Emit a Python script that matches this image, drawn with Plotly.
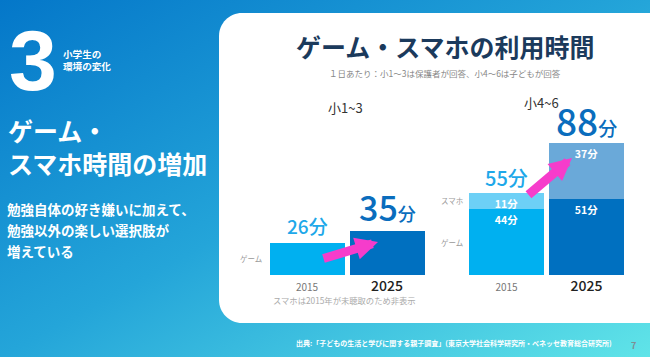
import base64
import plotly.graph_objects as go

# ---------------- data ----------------
years = ["2015", "2025"]
low_game = [26, 35]            # 小1~3 ゲーム (分)
high_game = [44, 51]           # 小4~6 ゲーム (分)
high_phone = [11, 37]          # 小4~6 スマホ (分)
group_labels = ["小1~3", "小4~6"]
series_labels = ["ゲーム", "スマホ"]

W, H = 650, 357
JP = "Noto Sans CJK JP"


def px(x):
    return x / W


def py(y):
    return 1 - y / H


# ---------------- background ----------------
svg = (
    '<svg xmlns="http://www.w3.org/2000/svg" width="650" height="357">'
    '<defs><linearGradient id="g" x1="0" y1="0" x2="1" y2="1">'
    '<stop offset="0" stop-color="#0477c9"/>'
    '<stop offset="0.5" stop-color="#24a5d9"/>'
    '<stop offset="1" stop-color="#60e4e8"/>'
    '</linearGradient></defs>'
    '<rect width="650" height="357" fill="url(#g)"/></svg>'
)
bg_uri = "data:image/svg+xml;base64," + base64.b64encode(svg.encode()).decode()

fig = go.Figure()

# ---------------- bars ----------------
c2015 = "#00b0f0"
c2025 = "#0070c0"
c2015p = "#6dd0f6"
c2025p = "#6aa9d9"

fig.add_trace(go.Bar(
    x=years, y=low_game, xaxis="x", yaxis="y",
    marker=dict(color=[c2015, c2025], line=dict(width=0)),
    hoverinfo="skip", showlegend=False,
))
fig.add_trace(go.Bar(
    x=years, y=high_game, xaxis="x2", yaxis="y2",
    marker=dict(color=[c2015, c2025], line=dict(width=0)),
    text=[f"{v}分" for v in high_game], textposition="inside",
    insidetextanchor="end", constraintext="none",
    textfont=dict(family=JP, size=10.5, color="white", weight="bold"),
    hoverinfo="skip", showlegend=False,
))
fig.add_trace(go.Bar(
    x=years, y=high_phone, xaxis="x2", yaxis="y2",
    marker=dict(color=[c2015p, c2025p], line=dict(width=0)),
    text=[f"{v}分" for v in high_phone], textposition="inside",
    insidetextanchor="end", constraintext="none",
    textfont=dict(family=JP, size=10.5, color="white", weight="bold"),
    hoverinfo="skip", showlegend=False,
))

ticktext = [
    f"<span style='font-size:10px;color:#777'>{years[0]}</span>",
    f"<span style='font-size:14px;color:#222;font-weight:500'>{years[1]}</span>",
]
xcommon = dict(type="category", range=[-0.5, 1.5], showgrid=False, zeroline=False,
               showline=False, ticks="", ticklen=0, ticklabelstandoff=3,
               tickmode="array", tickvals=years,
               ticktext=ticktext, tickfont=dict(family=JP, size=12, color="#222"),
               fixedrange=True)
ydom = [py(275), py(25)]

annotations = []


def ann(text, x, y, size, color="white", weight="normal", xanchor="center",
        yanchor="middle", family=JP, **kw):
    annotations.append(dict(text=text, x=px(x), y=py(y), xref="paper", yref="paper",
                            showarrow=False, xanchor=xanchor, yanchor=yanchor,
                            font=dict(family=family, size=size, color=color, weight=weight),
                            **kw))


# left panel texts
ann("3", 33, 60, 86, weight="bold", family="Liberation Sans")
ann("小学生の<br>環境の変化", 61, 60, 9.6, weight="bold", xanchor="left", align="left")
ann("ゲーム・<br>スマホ時間の増加", 6, 146, 25, weight="bold", xanchor="left", align="left")
for i, line in enumerate(["勉強自体の好き嫌いに加えて、", "勉強以外の楽しい選択肢が", "増えている"]):
    ann(line, 6, 209 + 21 * i, 13.5, weight="bold", xanchor="left", align="left", borderpad=0)

# footer
ann("出典:「子どもの生活と学びに関する親子調査」(東京大学社会科学研究所・ベネッセ教育総合研究所)",
    614, 343, 7, weight="bold", xanchor="right")
ann("7", 633, 345, 9, color="#7f8c93", weight="bold")

# card texts
ann("ゲーム・スマホの利用時間", 445, 46, 25, color="#1b3a5c", weight="bold")
ann("１日あたり：小1～3は保護者が回答、小4～6は子どもが回答", 445, 73, 8.5, color="#888888")
ann(group_labels[0], 346, 107, 13, color="#333333")
ann(group_labels[1], 541, 103, 13, color="#333333")
ann("スマホは2015年が未聴取のため非表示", 344, 300, 8.3, color="#aaaaaa")

# series labels beside the 2015 bars
annotations.append(dict(text=series_labels[0], x=px(264), xref="paper", y=low_game[0] / 2, yref="y",
                        xanchor="right", yanchor="middle", showarrow=False,
                        font=dict(family=JP, size=7.5, color="#999999")))
annotations.append(dict(text=series_labels[0], x=px(465), xref="paper", y=high_game[0] / 2, yref="y2",
                        xanchor="right", yanchor="middle", showarrow=False,
                        font=dict(family=JP, size=7.5, color="#999999")))
annotations.append(dict(text=series_labels[1], x=px(465), xref="paper",
                        y=high_game[0] + high_phone[0] / 2, yref="y2",
                        xanchor="right", yanchor="middle", showarrow=False,
                        font=dict(family=JP, size=7.5, color="#999999")))

# totals above bars (category positions given as indices 0, 1)
light = "#1ea8e9"
dark = "#0a6dbd"
annotations.append(dict(text=f"{low_game[0]}分", x=0, y=low_game[0], xref="x", yref="y",
                        yanchor="bottom", showarrow=False, yshift=2,
                        font=dict(family=JP, size=19, color=light, weight=500)))
annotations.append(dict(text=f"<span style='font-size:34px'>{low_game[1]}</span>"
                             f"<span style='font-size:18px'>分</span>",
                        x=1, y=low_game[1], xref="x", yref="y",
                        yanchor="bottom", showarrow=False, yshift=-2,
                        font=dict(family=JP, size=34, color=dark, weight=500)))
tot = [g + p for g, p in zip(high_game, high_phone)]
annotations.append(dict(text=f"{tot[0]}分", x=0, y=tot[0], xref="x2", yref="y2",
                        yanchor="bottom", showarrow=False, yshift=-1,
                        font=dict(family=JP, size=20, color=light, weight=500)))
annotations.append(dict(text=f"<span style='font-size:37px'>{tot[1]}</span>"
                             f"<span style='font-size:19px'>分</span>",
                        x=1, y=tot[1], xref="x2", yref="y2",
                        yanchor="bottom", showarrow=False, yshift=-6,
                        font=dict(family=JP, size=37, color=dark, weight=500)))

# arrows
pink = "#f63ccb"
for (tx, ty), (hx, hy) in [((322, 259), (378, 242)), ((527, 196), (572, 158))]:
    annotations.append(dict(text="", x=px(hx), y=py(hy), xref="paper", yref="paper",
                            ax=tx - hx, ay=ty - hy, showarrow=True, arrowhead=2,
                            arrowwidth=9, arrowsize=0.5, arrowcolor=pink, standoff=0))

# card shape with rounded left corners
x0, x1, y0, y1, r = 219, 660, 13, 323, 23
k = 0.5523 * r
path = (
    f"M {px(x1)},{py(y0)} L {px(x0 + r)},{py(y0)} "
    f"C {px(x0 + r - k)},{py(y0)} {px(x0)},{py(y0 + r - k)} {px(x0)},{py(y0 + r)} "
    f"L {px(x0)},{py(y1 - r)} "
    f"C {px(x0)},{py(y1 - r + k)} {px(x0 + r - k)},{py(y1)} {px(x0 + r)},{py(y1)} "
    f"L {px(x1)},{py(y1)} Z"
)

fig.update_layout(
    width=W, height=H, margin=dict(l=0, r=0, t=0, b=0),
    paper_bgcolor="#1f9bd6", plot_bgcolor="rgba(0,0,0,0)",
    barmode="stack", bargap=5 / 80,
    xaxis=dict(domain=[px(267), px(427)], anchor="y", **xcommon),
    yaxis=dict(domain=ydom, range=[0, 250 / 1.25], visible=False, fixedrange=True),
    xaxis2=dict(domain=[px(466.5), px(626.5)], anchor="y2", **xcommon),
    yaxis2=dict(domain=ydom, range=[0, 250 / 1.5], visible=False, fixedrange=True),
    images=[dict(source=bg_uri, xref="paper", yref="paper", x=0, y=1, sizex=1, sizey=1,
                 xanchor="left", yanchor="top", sizing="stretch", layer="below")],
    shapes=[dict(type="path", path=path, xref="paper", yref="paper",
                 fillcolor="white", line=dict(width=0), layer="below")],
    annotations=annotations,
    font=dict(family=JP),
)

fig.write_html(
    "out.html",
    config={"displayModeBar": False},
    post_script="document.body.style.margin='0';document.body.style.overflow='hidden';",
)
